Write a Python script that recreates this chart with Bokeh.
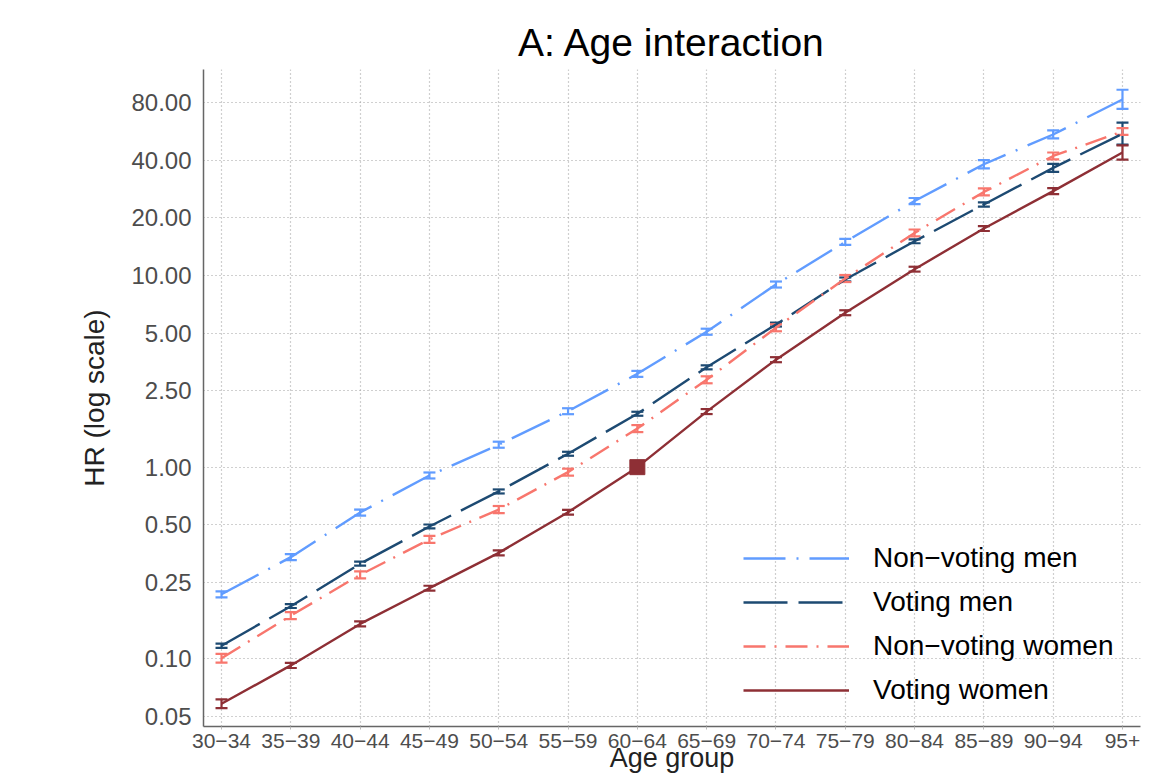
from bokeh.plotting import figure
from bokeh.models import (Range1d, FixedTicker, PrintfTickFormatter, ColumnDataSource,
                          Whisker, TeeHead, Legend, LegendItem)
from bokeh.embed import file_html
from bokeh.resources import INLINE

# ---------------- data ----------------
age_groups = ["30−34", "35−39", "40−44", "45−49", "50−54", "55−59", "60−64",
              "65−69", "70−74", "75−79", "80−84", "85−89", "90−94", "95+"]

nvm_hr = [0.217, 0.339, 0.580, 0.905, 1.31, 1.96, 3.07, 5.09, 8.98, 15.0, 24.5, 38.1, 54.5, 83.0]
nvm_lo = [0.209, 0.327, 0.559, 0.873, 1.263, 1.89, 2.96, 4.91, 8.66, 14.46, 23.6, 36.3, 52.0, 74.2]
nvm_hi = [0.225, 0.352, 0.601, 0.938, 1.358, 2.03, 3.18, 5.28, 9.31, 15.56, 25.4, 40.0, 57.2, 93.3]

vm_hr = [0.117, 0.188, 0.313, 0.490, 0.747, 1.175, 1.90, 3.32, 5.55, 9.54, 15.1, 23.5, 36.5, 55.0]
vm_lo = [0.114, 0.184, 0.306, 0.479, 0.729, 1.147, 1.855, 3.24, 5.42, 9.32, 14.75, 22.9, 34.8, 48.3]
vm_hi = [0.120, 0.193, 0.321, 0.502, 0.765, 1.203, 1.946, 3.40, 5.68, 9.77, 15.46, 24.1, 38.3, 62.9]

nvw_hr = [0.1007, 0.168, 0.274, 0.420, 0.601, 0.942, 1.59, 2.86, 5.34, 9.65, 16.7, 27.3, 42.1, 56.5]
nvw_lo = [0.0955, 0.161, 0.263, 0.403, 0.576, 0.903, 1.524, 2.74, 5.12, 9.25, 16.0, 26.2, 40.4, 54.3]
nvw_hi = [0.106, 0.175, 0.286, 0.438, 0.627, 0.982, 1.658, 2.98, 5.57, 10.07, 17.4, 28.5, 43.9, 58.8]

vw_hr = [0.0582, 0.0923, 0.152, 0.2335, 0.357, 0.582, 1.0, 1.95, 3.64, 6.40, 10.8, 17.6, 27.6, 43.9]
vw_lo = [0.0552, 0.0895, 0.1476, 0.2267, 0.3466, 0.565, 1.0, 1.893, 3.53, 6.21, 10.49, 17.09, 26.6, 40.3]
vw_hi = [0.0614, 0.0951, 0.1566, 0.2405, 0.3677, 0.599, 1.0, 2.01, 3.75, 6.59, 11.12, 18.13, 28.6, 47.8]

reference_group = "60−64"
reference_hr = 1.0

y_ticks = [0.05, 0.1, 0.25, 0.5, 1, 2.5, 5, 10, 20, 40, 80]

series = [
    ("Non−voting men", nvm_hr, nvm_lo, nvm_hi, "#619CFF", "42 11 2 11"),
    ("Voting men", vm_hr, vm_lo, vm_hi, "#1D4A72", "44 11"),
    ("Non−voting women", nvw_hr, nvw_lo, nvw_hi, "#F8766D", "22 9 2 9"),
    ("Voting women", vw_hr, vw_lo, vw_hi, "#8E2F35", "solid"),
]

FONT = "Liberation Sans"
xpos = list(range(len(age_groups)))

p = figure(width=1150, height=782, y_axis_type="log",
           x_range=Range1d(-0.26, len(age_groups) - 1 + 0.26),
           y_range=Range1d(0.0443, 119.0),
           output_backend="svg", toolbar_location=None,
           min_border_left=203, min_border_right=10,
           min_border_top=69, min_border_bottom=56,
           title="A: Age interaction")

p.outline_line_color = None
p.background_fill_color = "white"

p.title.text_font = FONT
p.title.text_font_size = "39px"
p.title.text_font_style = "normal"
p.title.text_color = "black"
p.title.align = "center"
p.title.standoff = 12

# axes
p.xaxis.ticker = FixedTicker(ticks=xpos)
p.xaxis.major_label_overrides = {i: g for i, g in enumerate(age_groups)}
p.yaxis.ticker = FixedTicker(ticks=y_ticks)
p.yaxis.formatter = PrintfTickFormatter(format="%.2f")
for ax in (p.xaxis, p.yaxis):
    ax.axis_line_color = "#666666"
    ax.axis_line_width = 1.5
    ax.minor_tick_line_color = None
    ax.major_label_text_font = FONT
    ax.major_label_text_color = "#4D4D4D"
    ax.axis_label_text_font = FONT
    ax.axis_label_text_font_style = "normal"
    ax.axis_label_text_color = "#222222"
p.xaxis.major_label_text_font_size = "21px"
p.yaxis.major_label_text_font_size = "24px"
p.xaxis.major_tick_line_color = "#BBBBBB"
p.xaxis.major_tick_out = 3
p.xaxis.major_tick_in = 0
p.xaxis.major_label_standoff = 4
p.yaxis.major_tick_line_color = None
p.yaxis.major_label_standoff = 6

p.yaxis.axis_label = "HR (log scale)"
p.yaxis.axis_label_text_font_size = "28px"
p.yaxis.axis_label_standoff = 18

p.xaxis.axis_label = "Age group"
p.xaxis.axis_label_text_font_size = "27px"
p.xaxis.axis_label_standoff = -8

# grids
for g in (p.xgrid, p.ygrid):
    g.grid_line_color = "#A0A0A0"
    g.grid_line_dash = "1 3"
    g.grid_line_width = 1.2

# series
items = []
for name, hr, lo, hi, color, dash in series:
    src = ColumnDataSource(dict(x=xpos, hr=hr, lo=lo, hi=hi))
    r = p.line("x", "hr", source=src, line_color=color, line_width=2.4, line_dash=dash)
    items.append(LegendItem(label=name, renderers=[r]))
    w = Whisker(source=src, base="x", upper="hi", lower="lo", dimension="height",
                line_color=color, line_width=2.2,
                upper_head=TeeHead(size=12, line_color=color, line_width=2.2),
                lower_head=TeeHead(size=12, line_color=color, line_width=2.2))
    p.add_layout(w)

# reference category marker
p.scatter([age_groups.index(reference_group)], [reference_hr], marker="square",
          size=15, fill_color="#8E2F35", line_color="#8E2F35")

legend = Legend(items=items, location=(540, 19))
legend.margin = 0
legend.padding = 0
legend.background_fill_alpha = 0
legend.border_line_alpha = 0
legend.glyph_width = 106
legend.glyph_height = 34
legend.label_height = 34
legend.spacing = 10
legend.label_standoff = 24
legend.label_text_font = FONT
legend.label_text_font_size = "28px"
legend.label_text_color = "black"
p.add_layout(legend, "center")

open("out.html", "w").write(file_html(p, INLINE))
